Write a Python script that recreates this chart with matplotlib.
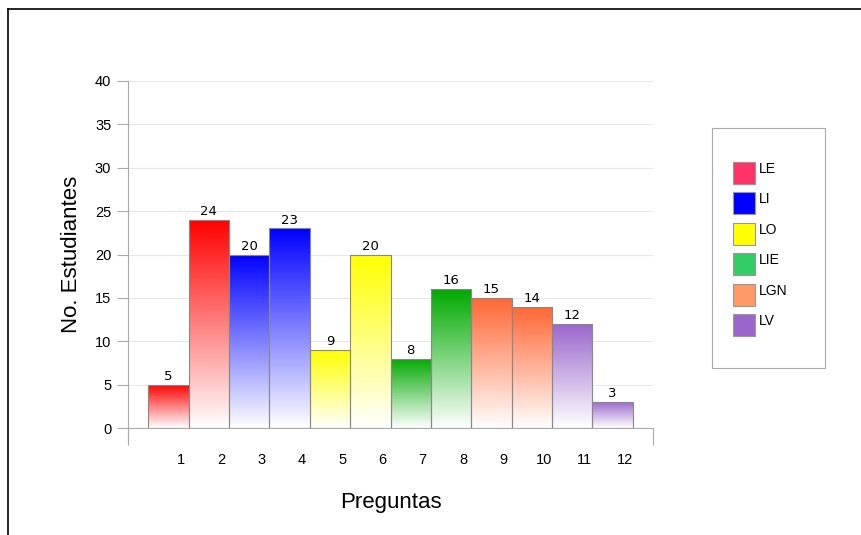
import numpy as np
import matplotlib.pyplot as plt
from matplotlib.colors import to_rgb
from matplotlib.patches import Rectangle
from matplotlib.lines import Line2D

preguntas = [1, 2, 3, 4, 5, 6, 7, 8, 9, 10, 11, 12]
estudiantes = [5, 24, 20, 23, 9, 20, 8, 16, 15, 14, 12, 3]
bar_colors = ['#ff0000', '#ff0000', '#0000ff', '#0000ff', '#ffff00', '#ffff00',
              '#00aa00', '#00aa00', '#ff6633', '#ff6633', '#9966cc', '#9966cc']
legend_labels = ['LE', 'LI', 'LO', 'LIE', 'LGN', 'LV']
legend_colors = ['#ff3366', '#0000ff', '#ffff00', '#33cc66', '#ff9966', '#9966cc']

W, H = 861, 535
fig = plt.figure(figsize=(W / 100, H / 100), dpi=100)
ax = fig.add_axes([128 / W, 1 - 428 / H, (653 - 128) / W, (428 - 81) / H])

bars = ax.bar(preguntas, estudiantes, width=1.0, color='none',
              edgecolor='#888888', linewidth=0.8, zorder=3)

# gradient fill: full colour at top, white at the bottom
for bar, c in zip(bars, bar_colors):
    rgb = np.array(to_rgb(c))
    t = np.linspace(0, 1, 256)[:, None]  # 0 at bottom, 1 at top
    grad = (1 - t) * np.ones(3) + t * rgb
    img = np.repeat(grad[:, None, :], 2, axis=1)
    x0 = bar.get_x()
    w = bar.get_width()
    h = bar.get_height()
    im = ax.imshow(img, extent=[x0, x0 + w, 0, h], origin='lower',
                   aspect='auto', zorder=2, interpolation='bilinear')
    im.set_clip_path(bar)
    ax.text(x0 + w / 2, h + 0.2, str(int(h)), ha='center', va='bottom',
            fontsize=9.5, family='DejaVu Sans', zorder=4)

ax.set_xlim(0, 13)
ax.set_ylim(0, 40)
ax.set_yticks(range(0, 41, 5))
ax.yaxis.grid(True, color='#e8e8e8', linewidth=0.8, zorder=0)
ax.set_axisbelow(True)

# x tick marks only at the ends, labels shifted to the right of bar centres
ax.set_xticks([0, 13])
ax.set_xticklabels(['', ''])
ax.tick_params(axis='x', which='major', length=12, color='#aaaaaa', width=0.8)
ax.set_xticks([p + 0.3 for p in preguntas], minor=True)
ax.set_xticklabels([str(p) for p in preguntas], minor=True,
                   family='Liberation Sans', fontsize=10.5)
ax.tick_params(axis='x', which='minor', length=0, pad=18)
ax.tick_params(axis='y', length=8, color='#aaaaaa', width=0.8, pad=4,
               labelsize=10.5)
for lbl in ax.get_yticklabels():
    lbl.set_family('Liberation Sans')

for side in ['top', 'right']:
    ax.spines[side].set_visible(False)
for side in ['left', 'bottom']:
    ax.spines[side].set_color('#aaaaaa')
    ax.spines[side].set_linewidth(0.8)
# left spine continues below zero
ax.plot([0, 0], [0, -12 / 347 * 40], color='#aaaaaa', linewidth=0.8,
        clip_on=False, zorder=1)

ax.set_ylabel('No. Estudiantes', fontsize=16, family='Liberation Sans', labelpad=9)
ax.set_xlabel('Preguntas', fontsize=16, family='Liberation Sans', labelpad=18)

# legend box drawn by hand to match the original layout
fig.add_artist(Rectangle((712 / W, 1 - 368 / H), (825 - 712) / W, (368 - 128) / H,
                         transform=fig.transFigure, facecolor='white',
                         edgecolor='#aaaaaa', linewidth=0.8))
for i, (lab, c) in enumerate(zip(legend_labels, legend_colors)):
    top = 162 + i * 30.4
    fig.add_artist(Rectangle((733 / W, 1 - (top + 22) / H), 22 / W, 22 / H,
                             transform=fig.transFigure, facecolor=c,
                             edgecolor='#999999', linewidth=0.8))
    fig.text(759 / W, 1 - (top + 7) / H, lab, ha='left', va='center',
             fontsize=10, family='Liberation Sans')

# figure border (top and left only visible)
fig.add_artist(Line2D([8 / W, 1], [1 - 9 / H, 1 - 9 / H], color='black',
                      linewidth=1.2, transform=fig.transFigure))
fig.add_artist(Line2D([8 / W, 8 / W], [0, 1 - 9 / H], color='black',
                      linewidth=1.2, transform=fig.transFigure))

fig.savefig('out.png', dpi=100)
